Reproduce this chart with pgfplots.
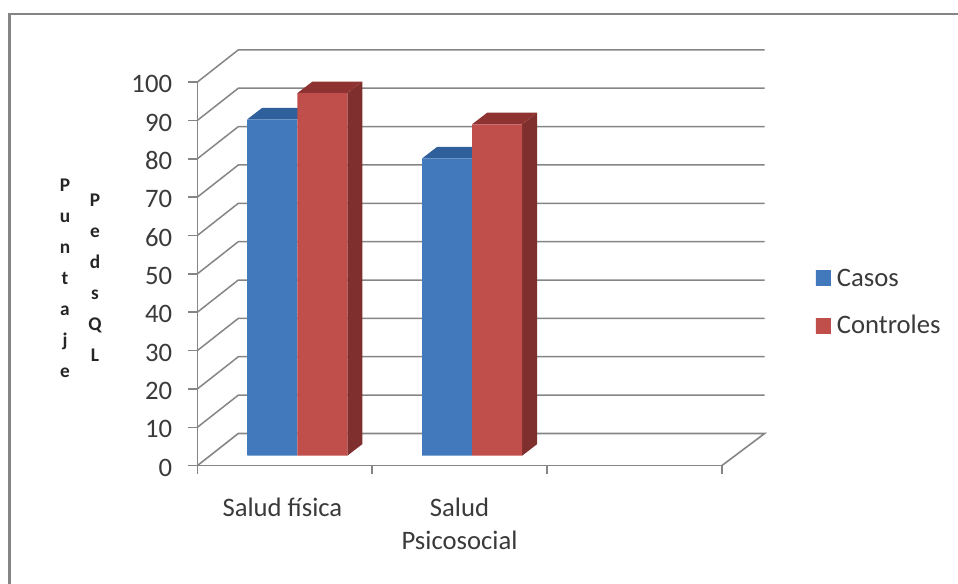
\documentclass[border=0pt]{standalone}
\usepackage{pgfplots}
\usepackage{pgfplotstable}
\usepackage{fontspec}
\setmainfont{Carlito}
\pgfplotsset{compat=1.18}
\definecolor{gridgray}{HTML}{858585}
\definecolor{textgray}{HTML}{3A3A3A}
\definecolor{bluemid}{HTML}{4C84C8}
\definecolor{blueedge}{HTML}{4279BD}
\definecolor{bluetop}{HTML}{30609C}
\definecolor{redmid}{HTML}{CA5A56}
\definecolor{rededge}{HTML}{C04E4B}
\definecolor{redtop}{HTML}{8E3331}
\definecolor{redside}{HTML}{7F302E}
% one pixel of the 958 by 584 canvas
\newlength{\px}\setlength{\px}{0.75pt}
\pgfplotstableread{
pos  casos controles
0.5  87.7  94.5
1.5  77.5  86.4
}\scores
\pgfplotsset{
  canvasaxis/.style={
    scale only axis, width=524.4\px, height=383.6\px,
    xmin=0, xmax=3, ymin=0, ymax=100, clip=false,
  },
}
\begin{document}
\begin{tikzpicture}[x=\px,y=\px]
\useasboundingbox (0,0) rectangle (958,584);
% outer frame of the chart area (open on the right and at the bottom)
\draw[gridgray,line width=2.8\px] (9.6,0) -- (9.6,570) -- (958,570);

% floor, walls and axes
\begin{axis}[canvasaxis,
  at={(197.3\px,118.3\px)}, anchor=south west,
  axis x line=bottom, axis y line=left,
  axis line style={gridgray,line width=1.6\px,-},
  ytick={0,10,...,100},
  xtick={0.487,1.5},
  xticklabels={Salud física,{Salud\\Psicosocial}},
  minor xtick={0,1,2,3},
  tick align=outside,
  major x tick style={draw=none},
  minor x tick style={gridgray,line width=1.6\px},
  minor tick length=8.5\px,
  y tick style={gridgray,line width=1.6\px},
  major tick length=9\px,
  /pgf/number format/assume math mode=true,
  ticklabel style={font=\fontsize{20pt}{20pt}\selectfont,text=textgray},
  yticklabel style={inner sep=0pt,xshift=-16\px,yshift=-2\px},
  xticklabel style={align=center,font=\fontsize{20pt}{24.5pt}\selectfont,inner sep=0pt,yshift=-23\px},
]
\addplot[gridgray,line width=1.6\px] coordinates {(3,0)(3.246,8.4)(0.2346,8.4)(0,0)};
\addplot[gridgray,line width=1.5\px] coordinates {(0,10)(0.2346,18.4)(3.246,18.4)};
\addplot[gridgray,line width=1.5\px] coordinates {(0,20)(0.2346,28.4)(3.246,28.4)};
\addplot[gridgray,line width=1.5\px] coordinates {(0,30)(0.2346,38.4)(3.246,38.4)};
\addplot[gridgray,line width=1.5\px] coordinates {(0,40)(0.2346,48.4)(3.246,48.4)};
\addplot[gridgray,line width=1.5\px] coordinates {(0,50)(0.2346,58.4)(3.246,58.4)};
\addplot[gridgray,line width=1.5\px] coordinates {(0,60)(0.2346,68.4)(3.246,68.4)};
\addplot[gridgray,line width=1.5\px] coordinates {(0,70)(0.2346,78.4)(3.246,78.4)};
\addplot[gridgray,line width=1.5\px] coordinates {(0,80)(0.2346,88.4)(3.246,88.4)};
\addplot[gridgray,line width=1.5\px] coordinates {(0,90)(0.2346,98.4)(3.246,98.4)};
\addplot[gridgray,line width=1.5\px] coordinates {(0,100)(0.2346,108.4)(3.246,108.4)};
\end{axis}

% bars, standing on the floor a little behind the front edge
\begin{axis}[canvasaxis,
  at={(209.9\px,128.3\px)}, anchor=south west,
  hide axis,
  legend cell align=left,
  legend style={at={(rel axis cs:1.155,0.488)},anchor=north west,draw=none,fill=none,
    font=\fontsize{20pt}{20pt}\selectfont,text=textgray,
    inner sep=0pt,row sep=29\px,
    nodes={inner sep=0pt,text depth=0pt,anchor=base west}},
]
% blue tops
\addplot[fill=bluetop,draw=none,forget plot] coordinates {(0.214,87.7)(0.5,87.7)(0.5858,90.7)(0.2998,90.7)} --cycle;
\addplot[fill=bluetop,draw=none,forget plot] coordinates {(1.214,77.5)(1.5,77.5)(1.5858,80.5)(1.2998,80.5)} --cycle;
% blue fronts
\addplot[ybar,bar width=50\px,bar shift=-25\px,draw=none,
  left color=blueedge,middle color=bluemid,right color=blueedge,
  legend image code/.code={\fill[blueedge] (0,0.5\px) rectangle (15\px,15.5\px);\path (0,0) -- (21\px,0);}]
  table[x=pos,y=casos] {\scores};
\addlegendentry{Casos}
% red sides and tops
\addplot[fill=redside,draw=none,forget plot] coordinates {(0.786,0)(0.8718,3)(0.8718,97.5)(0.786,94.5)} --cycle;
\addplot[fill=redtop,draw=none,forget plot] coordinates {(0.5,94.5)(0.786,94.5)(0.8718,97.5)(0.5858,97.5)} --cycle;
\addplot[fill=redside,draw=none,forget plot] coordinates {(1.786,0)(1.8718,3)(1.8718,89.4)(1.786,86.4)} --cycle;
\addplot[fill=redtop,draw=none,forget plot] coordinates {(1.5,86.4)(1.786,86.4)(1.8718,89.4)(1.5858,89.4)} --cycle;
% red fronts
\addplot[ybar,bar width=50\px,bar shift=25\px,draw=none,
  left color=rededge,middle color=redmid,right color=rededge,
  legend image code/.code={\fill[rededge] (0,0.5\px) rectangle (15\px,15.5\px);\path (0,0) -- (21\px,0);}]
  table[x=pos,y=controles] {\scores};
\addlegendentry{Controles}
\end{axis}

% stacked letters of the axis title
\node[align=center,font=\bfseries\fontsize{14.5pt}{23.2pt}\selectfont,text=black!85,inner sep=0pt,anchor=center]
  at (65,584-278.5) {P\\u\\n\\t\\a\\j\\e};
\node[align=center,font=\bfseries\fontsize{14.5pt}{23.2pt}\selectfont,text=black!85,inner sep=0pt,anchor=center]
  at (95,584-277.5) {P\\e\\d\\s\\Q\\L};
\end{tikzpicture}
\end{document}
